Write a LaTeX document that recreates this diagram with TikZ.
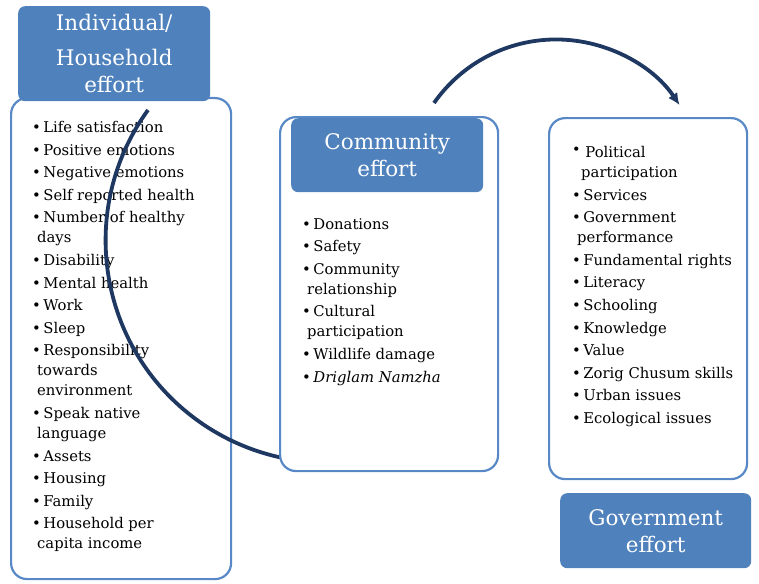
\documentclass[tikz,border=0pt]{standalone}
\usepackage{fontspec}
\setmainfont{DejaVu Serif}
\usetikzlibrary{arrows.meta}
\definecolor{hdblue}{RGB}{79,129,189}
\definecolor{bxblue}{RGB}{88,136,198}
\definecolor{arcnavy}{RGB}{30,56,98}
\newcommand{\itm}{\textbullet\,}
\newcommand{\cnt}{\hspace*{5pt}}
\begin{document}
\begin{tikzpicture}[x=1pt,y=1pt]
\tikzset{listbox/.style={draw=bxblue,line width=2.2pt,fill=white,rounded corners=16pt,anchor=north west,inner sep=0}}
\tikzset{headbox/.style={fill=hdblue,rounded corners=7pt,anchor=north west,inner sep=0,text=white,align=center,font=\fontsize{21.5}{27}\selectfont}}
\tikzset{items/.style={anchor=north west,inner sep=0,align=left,font=\fontsize{14.8}{20}\selectfont}}
\tikzset{bigarc/.style={draw=arcnavy,line width=3.8pt}}
\pgfmathsetmacro{\rLow}{222}   %radius of lower arc
\pgfmathsetmacro{\rTop}{149}   %radius of upper arc
\useasboundingbox (0,0) rectangle (759,-583);
%individual / household
\node[listbox,minimum width=220,minimum height=481] (indbox) at (10,-97) {};
\node[headbox,minimum width=192,minimum height=95] (indhead) at (18,-6) {Individual/\\[8pt]Household\\effort};
\node[items] (indlist) at (32,-121) {\itm Life satisfaction\\[2.6pt]
\itm Positive emotions\\[2.6pt]
\itm Negative emotions\\[2.6pt]
\itm Self reported health\\[2.6pt]
\itm Number of healthy\\
\cnt days\\[2.6pt]
\itm Disability\\[2.6pt]
\itm Mental health\\[2.6pt]
\itm Work\\[2.6pt]
\itm Sleep\\[2.6pt]
\itm Responsibility\\
\cnt towards\\
\cnt environment\\[2.6pt]
\itm Speak native\\
\cnt language\\[2.6pt]
\itm Assets\\[2.6pt]
\itm Housing\\[2.6pt]
\itm Family\\[2.6pt]
\itm Household per\\
\cnt capita income};
%lower arc
\coordinate (lowstart) at (148,-110);
\draw[bigarc] (lowstart) arc[start angle=144,end angle=261,radius=\rLow];
%community
\node[listbox,minimum width=218,minimum height=354] (combox) at (279,-116) {};
\node[headbox,minimum width=192,minimum height=74] (comhead) at (291,-118) {Community\\effort};
\node[items] (comlist) at (302,-218) {\itm Donations\\[2.6pt]
\itm Safety\\[2.6pt]
\itm Community\\
\cnt relationship\\[2.6pt]
\itm Cultural\\
\cnt participation\\[2.6pt]
\itm Wildlife damage\\[2.6pt]
\itm\textit{Driglam Namzha}};
%government
\node[listbox,minimum width=198,minimum height=361] (govbox) at (548,-117) {};
\node[items] (govlist) at (572,-146) {\raisebox{2.5pt}{\Large\textbullet}\ Political\\
\hspace*{9pt}participation\\[2.6pt]
\itm Services\\[2.6pt]
\itm Government\\
\cnt performance\\[2.6pt]
\itm Fundamental rights\\[2.6pt]
\itm Literacy\\[2.6pt]
\itm Schooling\\[2.6pt]
\itm Knowledge\\[2.6pt]
\itm Value\\[2.6pt]
\itm Zorig Chusum skills\\[2.6pt]
\itm Urban issues\\[2.6pt]
\itm Ecological issues};
\node[headbox,minimum width=191,minimum height=75] (govhead) at (560,-493) {Government\\effort};
%upper arc
\coordinate (topstart) at (434,-103);
\draw[bigarc,-{Latex[length=12pt,width=11pt]}] (topstart) arc[start angle=145,end angle=34,radius=\rTop];
\end{tikzpicture}
\end{document}
